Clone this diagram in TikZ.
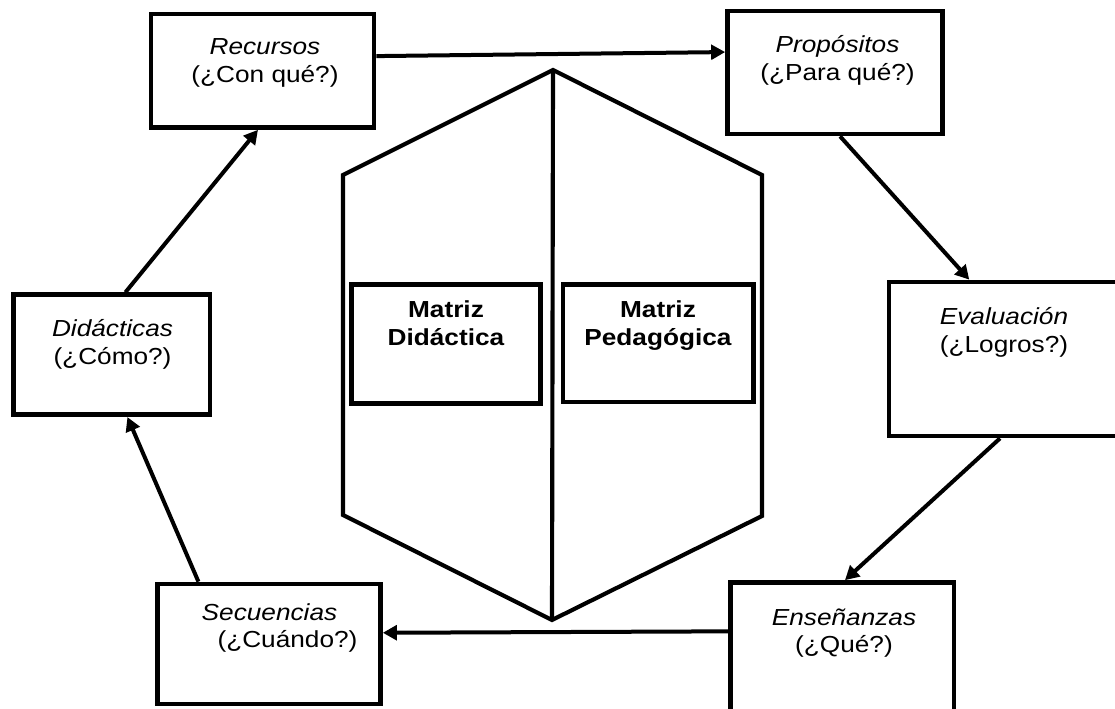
\documentclass[tikz,border=0pt]{standalone}
\usepackage{fontspec}
\setmainfont{Liberation Sans}[FakeStretch=1.13]
\usetikzlibrary{arrows.meta,calc}
\begin{document}
\begin{tikzpicture}[x=0.75pt,y=-0.75pt,
  box/.style={draw, line width=3.5pt, inner sep=0pt},
  lbl/.style={anchor=base, inner sep=0pt, font=\fontsize{17.4}{20.6}\selectfont},
  flow/.style={line width=3pt, -{Triangle[length=10.5pt,width=11pt]}},
  hex/.style={line width=3.1pt, line join=miter}]
\useasboundingbox (0,0) rectangle (1115,709);

% central hexagon split in two halves
\coordinate (hT)  at (553,70);
\coordinate (hTR) at (762,175);
\coordinate (hBR) at (762,516);
\coordinate (hB)  at (552,620);
\coordinate (hBL) at (343,515);
\coordinate (hTL) at (343,175);
\draw[hex] (hT) -- (hTR) -- (hBR) -- (hB) -- (hBL) -- (hTL) -- cycle;
\draw[hex] (hT) -- (hB);

% outer cycle of boxes
\node[box, minimum width=223*0.75pt, minimum height=113.5*0.75pt] (rec) at (262.5,70.75) {};
\node[box, minimum width=215*0.75pt, minimum height=123*0.75pt] (pro) at (835,72.5) {};
\node[box, minimum width=230*0.75pt, minimum height=154*0.75pt] (eva) at (1004,359) {};
\node[box, minimum width=223.5*0.75pt, minimum height=137.5*0.75pt] (ens) at (842.25,651.25) {};
\node[box, minimum width=223*0.75pt, minimum height=120*0.75pt] (sec) at (269,644) {};
\node[box, minimum width=196.7*0.75pt, minimum height=120*0.75pt] (did) at (111.7,354.7) {};

% inner boxes
\node[box, minimum width=189*0.75pt, minimum height=119*0.75pt] (mdid) at (446,344.2) {};
\node[box, minimum width=190.3*0.75pt, minimum height=117.3*0.75pt] (mped) at (658.2,343.4) {};

% labels
\node[lbl] (recT) at (265,55) {\begin{tabular}[t]{@{}c@{}}\textit{Recursos}\\(¿Con qué?)\end{tabular}};
\node[lbl] (proT) at (837.5,53) {\begin{tabular}[t]{@{}c@{}}\textit{Propósitos}\\(¿Para qué?)\end{tabular}};
\node[lbl] (evaT) at (1004,325) {\begin{tabular}[t]{@{}c@{}}\textit{Evaluación}\\(¿Logros?)\end{tabular}};
\node[lbl] (ensT) at (844,625) {\begin{tabular}[t]{@{}c@{}}\textit{Enseñanzas}\\(¿Qué?)\end{tabular}};
\node[lbl] (secT) at (269.5,620) {\begin{tabular}[t]{@{}c@{}}\textit{Secuencias}\\\hspace*{27pt}(¿Cuándo?)\end{tabular}};
\node[lbl] (didT) at (112.5,336.7) {\begin{tabular}[t]{@{}c@{}}\textit{Didácticas}\\(¿Cómo?)\end{tabular}};
\node[lbl] (mdidT) at (446,318) {\begin{tabular}[t]{@{}c@{}}\textbf{Matriz}\\\textbf{Didáctica}\end{tabular}};
\node[lbl] (mpedT) at (658,318) {\begin{tabular}[t]{@{}c@{}}\textbf{Matriz}\\\textbf{Pedagógica}\end{tabular}};

% connectors around the cycle
\draw[flow] ($(rec.north east)!0.376!(rec.south east)$) -- ($(pro.north west)!0.34!(pro.south west)$);
\draw[flow] ($(pro.south west)!0.523!(pro.south east)$) -- ($(eva.north west)!0.352!(eva.north east)$);
\draw[flow] ($(eva.south west)!0.483!(eva.south east)$) -- ($(ens.north west)!0.512!(ens.north east)$);
\draw[flow] ($(ens.north west)!0.36!(ens.south west)$) -- ($(sec.north east)!0.41!(sec.south east)$);
\draw[flow] ($(sec.north west)!0.19!(sec.north east)$) -- ($(did.south west)!0.578!(did.south east)$);
\draw[flow] ($(did.north west)!0.568!(did.north east)$) -- ($(rec.south west)!0.48!(rec.south east)$);
\end{tikzpicture}
\end{document}
